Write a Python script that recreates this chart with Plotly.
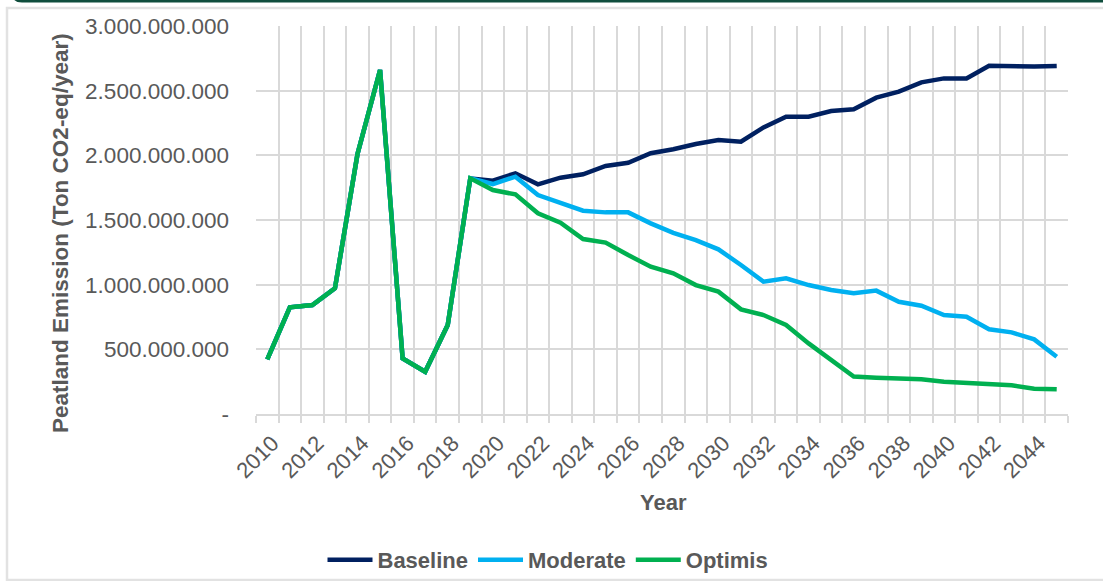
import plotly.graph_objects as go

years = list(range(2010, 2046))

history = [423e6, 825e6, 843e6, 972e6, 2010e6, 2660e6, 430e6, 327e6, 688e6]

baseline = history + [1822e6, 1804e6, 1861e6, 1776e6, 1827e6, 1853e6, 1918e6, 1943e6,
                      2016e6, 2047e6, 2088e6, 2119e6, 2106e6, 2216e6, 2299e6, 2299e6,
                      2343e6, 2356e6, 2446e6, 2492e6, 2564e6, 2595e6, 2595e6, 2693e6,
                      2686e6, 2686e6, 2691e6]
moderate = history + [1822e6, 1778e6, 1835e6, 1693e6, 1629e6, 1572e6, 1559e6, 1559e6,
                      1474e6, 1400e6, 1345e6, 1273e6, 1152e6, 1023e6, 1049e6, 997e6,
                      959e6, 933e6, 954e6, 868e6, 837e6, 765e6, 752e6, 655e6,
                      631e6, 577e6, 443e6]
optimis = history + [1822e6, 1732e6, 1698e6, 1552e6, 1479e6, 1353e6, 1325e6, 1229e6,
                     1139e6, 1088e6, 997e6, 946e6, 809e6, 765e6, 688e6, 546e6,
                     418e6, 289e6, 281e6, 273e6, 268e6, 250e6, 242e6, 232e6,
                     222e6, 196e6, 191e6]

series_names = ["Baseline", "Moderate", "Optimis"]
series_values = [baseline, moderate, optimis]
series_colors = ["#002060", "#00B0F0", "#00B050"]

y_tickvals = [0, 500e6, 1000e6, 1500e6, 2000e6, 2500e6, 3000e6]
y_ticktext = ["-", "500.000.000", "1.000.000.000", "1.500.000.000",
              "2.000.000.000", "2.500.000.000", "3.000.000.000"]
x_tickvals = years[::2]
x_ticktext = [str(y) for y in x_tickvals]
boundaries = [y - 0.5 for y in years] + [years[-1] + 0.5]

FONT = "Liberation Sans, Arial, sans-serif"
GREY = "#595959"
GRID = "#d9d9d9"

W, H = 1103, 581
L, R, T, B = 256, 35, 26, 167
pw, ph = W - L - R, H - T - B


def px(x):
    return (x - L) / pw


def py(y):
    return (H - B - y) / ph


fig = go.Figure()
for name, vals, col in zip(series_names, series_values, series_colors):
    fig.add_trace(go.Scatter(x=years, y=vals, name=name, mode="lines",
                             line=dict(color=col, width=4.5)))

fig.update_layout(
    width=W, height=H,
    margin=dict(l=L, r=R, t=T, b=B, autoexpand=False),
    paper_bgcolor="white", plot_bgcolor="white",
    font=dict(family=FONT, size=22, color=GREY),
    showlegend=True,
    legend=dict(orientation="h", x=px(548), xanchor="center",
                y=py(560), yanchor="middle",
                font=dict(family=FONT, size=22, color=GREY, weight="bold"),
                bgcolor="rgba(0,0,0,0)", itemwidth=45),
    xaxis=dict(range=[years[0] - 0.5, years[-1] + 0.5],
               tickmode="array", tickvals=x_tickvals, ticktext=x_ticktext,
               tickangle=-45, showgrid=False, ticks="",
               tickfont=dict(size=22, color=GREY), ticklabelstandoff=6,
               ticklabelshift=5,
               showline=True, linecolor=GRID, linewidth=1.5,
               zeroline=False,
               minor=dict(tickmode="array", tickvals=boundaries, showgrid=True,
                          gridcolor=GRID, gridwidth=1.5, ticks="outside",
                          ticklen=7, tickcolor=GRID, tickwidth=1.5)),
    yaxis=dict(range=[0, 3e9], tickmode="array", tickvals=y_tickvals,
               ticktext=y_ticktext, showgrid=True, gridcolor=GRID, gridwidth=1.5,
               zeroline=False, showline=False, ticks="",
               tickfont=dict(size=22.5, color=GREY), ticklabelstandoff=26),
    annotations=[
        dict(text="<b>Peatland Emission (Ton CO2-eq/year)</b>", textangle=-90,
             xref="paper", yref="paper", x=px(60), y=py(233),
             xanchor="center", yanchor="middle", showarrow=False,
             font=dict(family=FONT, size=22.5, color=GREY)),
        dict(text="<b>Year</b>", xref="paper", yref="paper", x=px(663), y=py(502),
             xanchor="center", yanchor="middle", showarrow=False,
             font=dict(family=FONT, size=22, color=GREY)),
    ],
    shapes=[
        dict(type="rect", xref="paper", yref="paper", x0=px(7), x1=px(1120),
             y0=py(580), y1=py(8), line=dict(color="#e2e2e2", width=2.5),
             fillcolor="rgba(0,0,0,0)", layer="below"),
        dict(type="path", xref="paper", yref="paper",
             path=f"M {px(13)},{py(-2)} L {px(1110)},{py(-2)} L {px(1110)},{py(2.5)} "
                  f"L {px(22)},{py(2.5)} Q {px(15)},{py(2.5)} {px(13)},{py(-2)} Z",
             fillcolor="#0f4d3c", line=dict(width=0), layer="above"),
    ],
)

fig.write_html("out.html", config={"displayModeBar": False},
               post_script="document.body.style.margin='0';document.body.style.overflow='hidden';")
